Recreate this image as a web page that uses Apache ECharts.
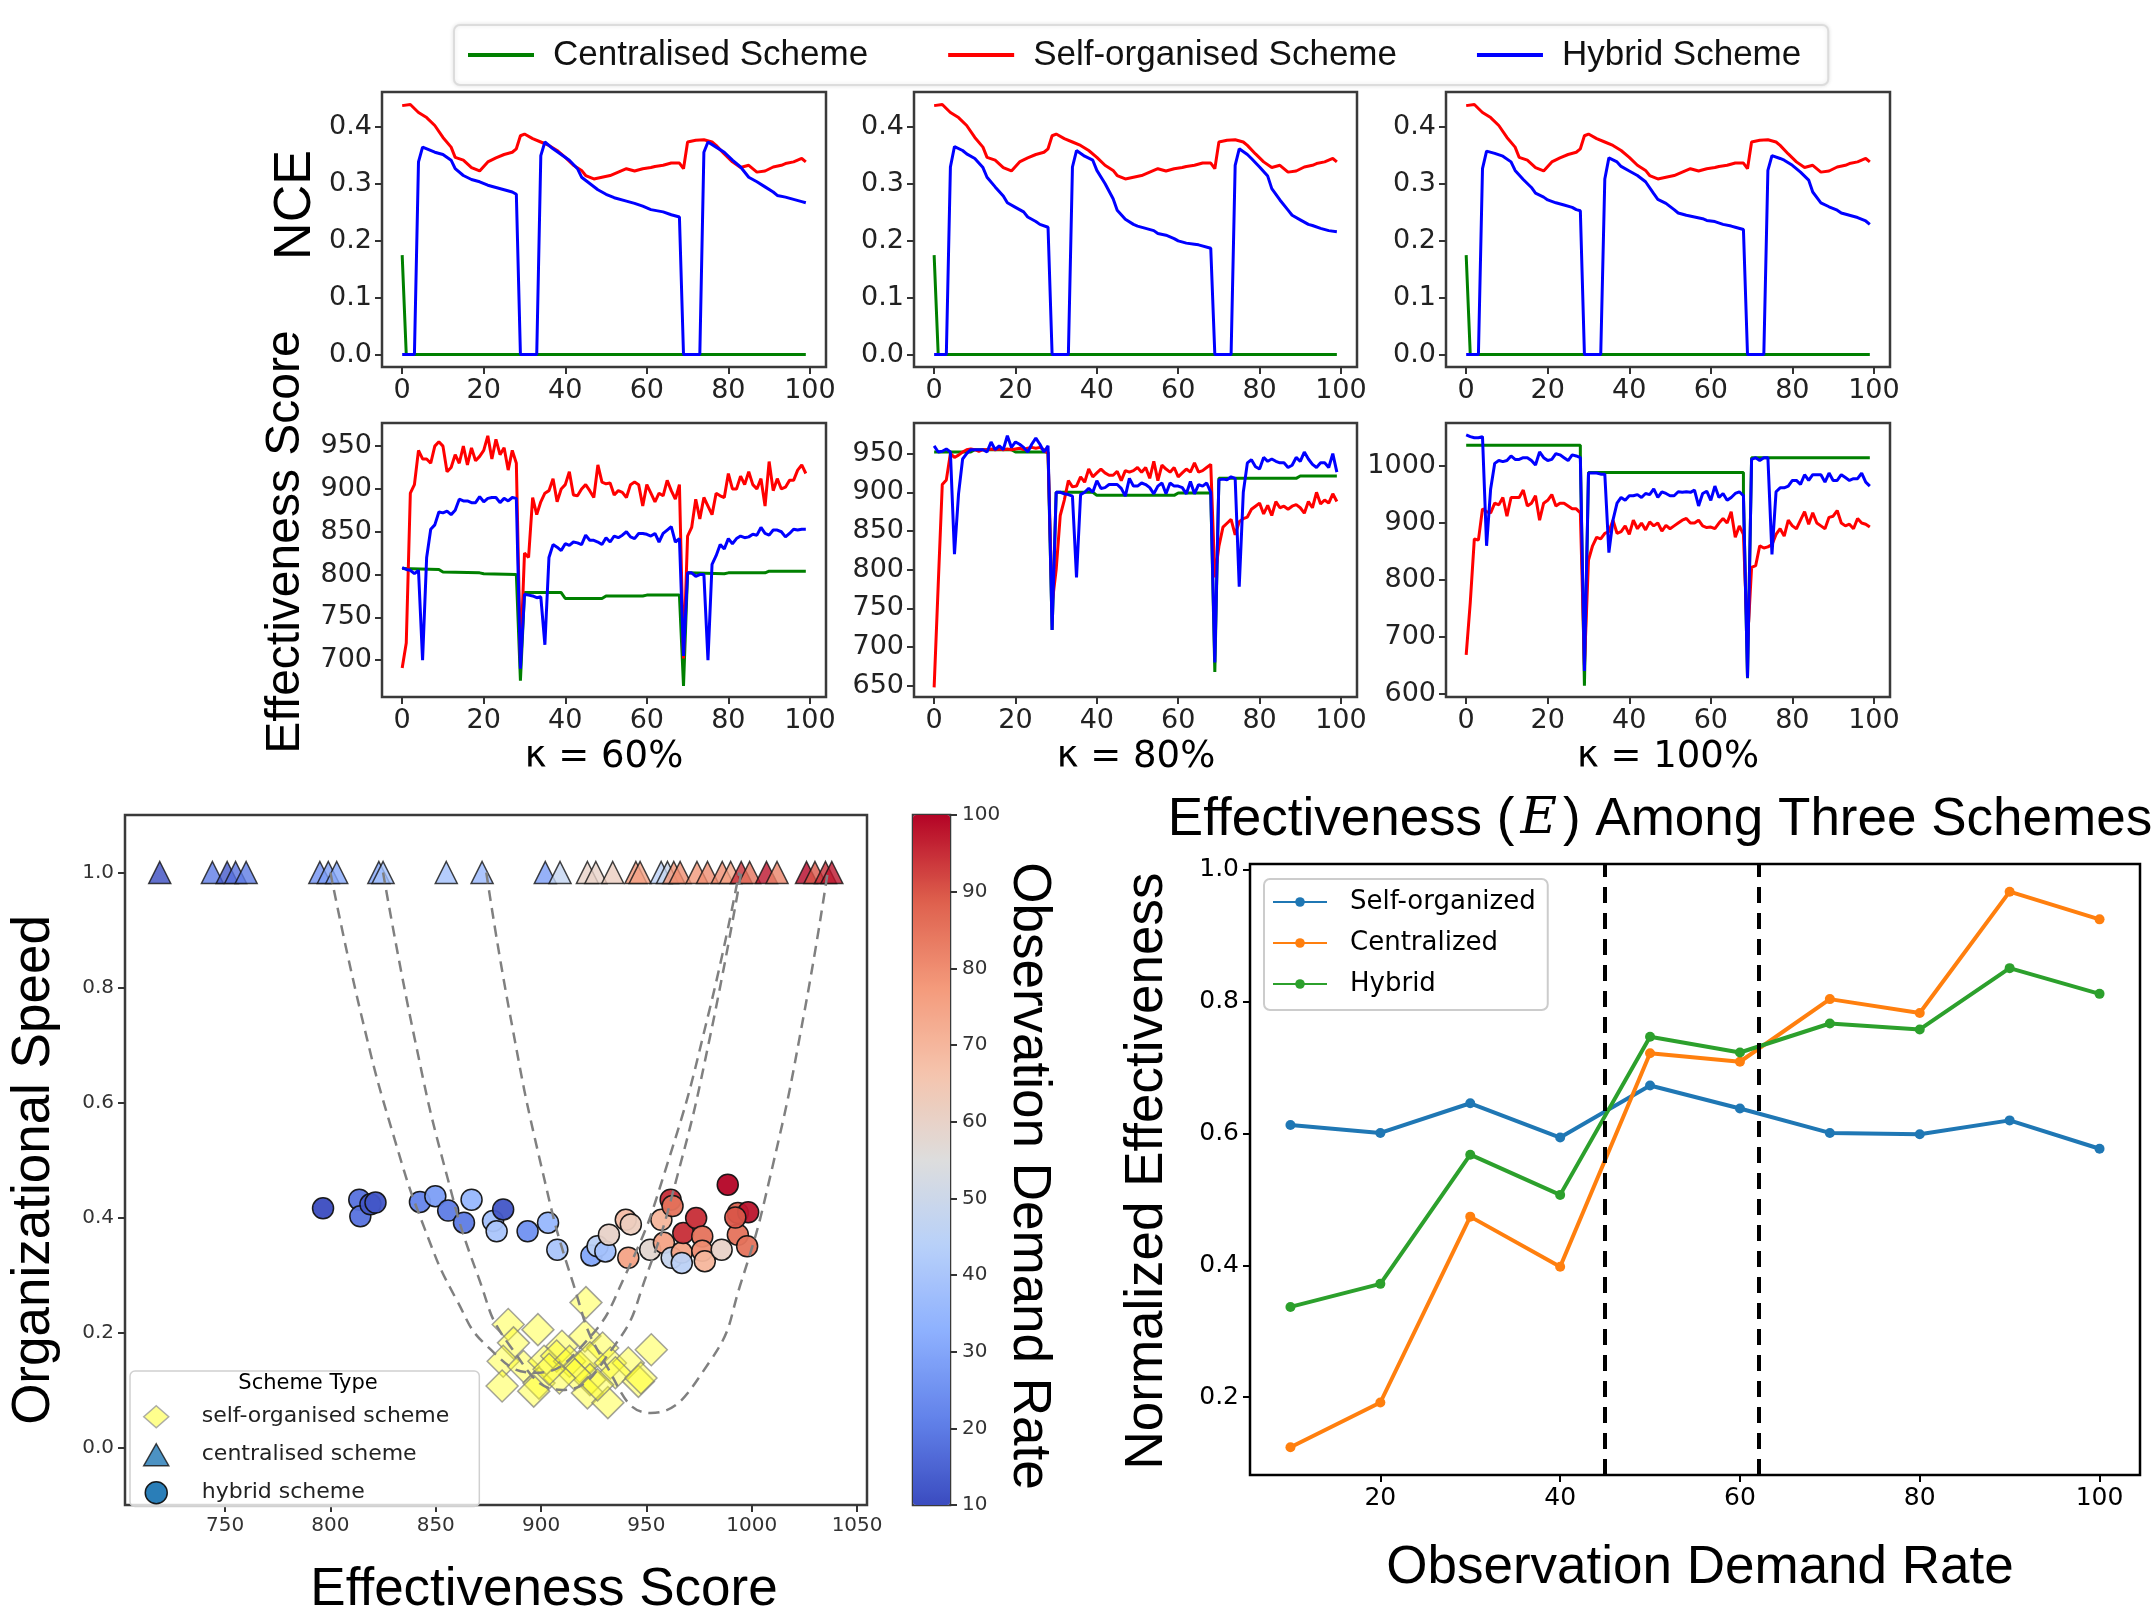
<!DOCTYPE html>
<html>
<head>
<meta charset="utf-8">
<script src="https://cdn.jsdelivr.net/npm/echarts@6/dist/echarts.min.js"></script>
<style>
  html, body { margin: 0; padding: 0; background: #fff; }
  #main { width: 2156px; height: 1611px; }
</style>
</head>
<body>
<div id="main"></div>
<script>
// ---- NCE (top row), x = time step ----
const nceCentral = [[0, 0.175], [1, 0], [99, 0]];
const nceSelf = [[0,0.438],[2,0.44],[4,0.426],[6,0.417],[8,0.403],[10,0.382],[12,0.365],[13,0.347],[15,0.342],[17,0.329],[19,0.323],[21,0.339],[23,0.346],[25,0.352],[27,0.356],[28,0.362],[29,0.385],[30,0.388],[32,0.38],[34,0.374],[36,0.368],[38,0.359],[40,0.347],[42,0.333],[44,0.324],[45,0.315],[47,0.309],[49,0.312],[51,0.315],[53,0.321],[55,0.327],[57,0.323],[59,0.327],[61,0.329],[62,0.331],[64,0.333],[66,0.337],[68,0.337],[69,0.327],[70,0.374],[72,0.377],[74,0.378],[76,0.374],[77,0.368],[79,0.353],[81,0.339],[83,0.329],[85,0.333],[87,0.321],[89,0.323],[91,0.33],[93,0.333],[94,0.336],[96,0.339],[98,0.345],[99,0.339]];
const nceHybrid60 = [[0,0],[3,0],[4,0.339],[5,0.365],[8,0.356],[10,0.352],[12,0.342],[13,0.327],[15,0.315],[17,0.308],[19,0.304],[21,0.298],[23,0.294],[25,0.29],[27,0.286],[28,0.282],[29,0],[33,0],[34,0.35],[35,0.374],[37,0.362],[39,0.352],[41,0.342],[43,0.327],[44,0.312],[46,0.301],[48,0.29],[50,0.282],[52,0.276],[55,0.27],[57,0.266],[59,0.261],[61,0.255],[64,0.251],[66,0.246],[68,0.242],[69,0],[73,0],[74,0.356],[75,0.374],[77,0.365],[79,0.356],[81,0.342],[83,0.33],[85,0.312],[87,0.304],[89,0.295],[91,0.286],[92,0.28],[94,0.277],[96,0.273],[98,0.269],[99,0.267]];
const nceHybrid80 = [[0,0],[3,0],[4,0.33],[5,0.366],[7,0.359],[8,0.353],[10,0.345],[12,0.329],[13,0.312],[15,0.295],[17,0.279],[18,0.267],[20,0.259],[22,0.251],[23,0.242],[25,0.234],[26,0.229],[28,0.224],[29,0],[33,0],[34,0.33],[35,0.359],[37,0.349],[39,0.342],[40,0.324],[42,0.301],[44,0.274],[45,0.254],[47,0.238],[49,0.229],[50,0.226],[52,0.222],[54,0.218],[55,0.213],[57,0.21],[59,0.204],[60,0.2],[62,0.196],[64,0.194],[65,0.193],[68,0.187],[69,0],[73,0],[74,0.333],[75,0.362],[77,0.352],[78,0.345],[80,0.33],[82,0.314],[83,0.292],[85,0.272],[87,0.254],[88,0.245],[90,0.237],[92,0.229],[93,0.227],[95,0.222],[97,0.218],[99,0.216]];
const nceHybrid100 = [[0,0],[3,0],[4,0.327],[5,0.358],[7,0.354],[9,0.349],[11,0.339],[12,0.324],[14,0.308],[16,0.294],[17,0.284],[19,0.277],[20,0.272],[22,0.267],[24,0.263],[26,0.259],[27,0.255],[28,0.253],[29,0],[33,0],[34,0.309],[35,0.346],[37,0.339],[38,0.331],[40,0.323],[42,0.315],[44,0.304],[46,0.283],[47,0.273],[49,0.266],[51,0.255],[52,0.249],[54,0.245],[56,0.242],[58,0.239],[59,0.236],[61,0.234],[63,0.229],[65,0.226],[66,0.224],[68,0.22],[69,0],[73,0],[74,0.324],[75,0.35],[77,0.345],[78,0.342],[80,0.333],[82,0.321],[84,0.307],[85,0.286],[87,0.267],[89,0.26],[91,0.254],[92,0.249],[94,0.245],[96,0.241],[98,0.235],[99,0.229]];

// ---- Effectiveness score (second row), one value per time step 0..99 ----
const effSelf60 = [691,720,895,905,945,935,935,930,950,955,950,920,925,940,930,950,928,948,933,938,945,962,935,958,940,948,922,945,930,700,825,820,890,870,885,895,898,912,885,900,905,920,893,892,900,905,898,890,928,908,906,907,893,898,896,890,905,908,905,880,905,895,885,895,892,910,898,888,905,702,845,855,888,865,890,880,870,895,892,890,918,900,900,915,905,920,905,900,912,880,932,898,912,900,902,910,910,922,928,918];
const effHybrid60 = [808,806,805,801,805,700,820,853,858,873,872,874,870,875,888,886,886,884,884,891,885,889,890,890,884,889,886,890,889,690,777,776,775,773,774,718,820,835,832,828,836,834,838,837,835,846,840,840,838,835,843,838,845,843,846,850,844,842,848,848,847,845,848,838,848,852,856,838,842,705,802,802,798,800,800,700,812,822,835,830,842,836,842,845,843,844,847,846,855,848,846,852,852,850,844,848,853,852,853,853];
const effCentral60 = [[0,807],[9,806],[10,803],[19,802],[20,801],[28,800],[29,676],[30,779],[39,779],[40,772],[49,772],[50,775],[59,775],[60,776],[68,776],[69,670],[70,802],[79,801],[80,802],[89,802],[90,804],[99,804]];

const effSelf80 = [648,780,910,916,950,945,948,952,955,956,955,953,955,955,956,955,956,955,956,955,956,957,955,957,958,957,958,955,950,756,800,870,890,915,907,908,920,913,930,920,925,930,925,922,922,927,915,928,926,928,932,926,932,918,940,915,935,930,926,932,920,925,930,926,938,926,928,932,936,790,830,855,860,865,845,862,866,868,878,882,886,872,883,870,888,880,882,878,882,884,880,873,888,880,900,885,890,886,898,888];
const effHybrid80 = [960,952,953,956,952,820,898,943,950,955,955,955,955,952,965,955,960,955,973,958,965,962,958,952,962,970,962,952,960,722,900,900,898,897,895,790,897,900,905,900,915,905,906,910,910,910,905,895,918,908,908,912,910,906,898,908,912,898,912,908,908,906,898,914,898,910,908,912,900,680,916,917,916,920,918,778,900,938,942,933,930,945,940,943,940,938,938,932,935,945,940,952,943,936,932,938,938,932,950,926];
const effCentral80 = [[0,952],[9,952],[10,955],[19,955],[20,952],[28,952],[29,722],[30,900],[39,900],[40,896],[59,896],[60,899],[68,899],[69,668],[70,918],[89,918],[90,921],[99,921]];

const effSelf100 = [668,760,872,870,925,920,918,935,932,945,912,945,945,945,958,930,935,948,905,935,940,950,930,935,935,930,925,925,918,650,835,860,875,872,882,885,905,882,885,895,880,905,890,900,888,902,895,900,886,896,890,895,900,905,908,900,900,905,895,892,893,890,900,908,900,920,875,895,880,690,822,825,860,856,858,862,880,890,877,905,895,890,905,920,898,918,900,895,890,910,912,922,900,895,898,890,908,900,898,893];
const effHybrid100 = [1055,1052,1050,1050,1052,860,960,1005,1010,1008,1010,1018,1012,1012,1015,1015,1010,1002,1025,1015,1010,1012,1022,1020,1015,1010,1020,1018,1015,640,988,988,988,986,986,848,905,935,945,940,948,948,950,945,952,950,960,945,955,952,948,948,955,954,955,954,958,930,952,956,940,965,945,952,940,945,952,955,948,628,1012,1015,1010,1015,1015,845,955,962,962,965,975,975,968,985,975,985,985,985,972,988,975,975,985,980,975,978,978,988,972,965];
const effCentral100 = [[0,1037],[28,1037],[28,1020],[29,614],[30,989],[68,989],[68,952],[69,627],[70,1015],[99,1015]];

// ---- Scatter: [effectiveness, organizational speed, observation demand rate] ----
const centralisedPts = [[719,1,10],[744,1,20],[751,1,13],[755,1,18],[760,1,20],[795,1,25],[799,1,28],[803,1,30],[823,1,30],[825,1,38],[855,1,38],[872,1,35],[902,1,28],[909,1,47],[922,1,60],[926,1,60],[934,1,62],[945,1,78],[947,1,75],[957,1,45],[960,1,48],[963,1,78],[966,1,80],[974,1,78],[979,1,80],[986,1,80],[990,1,75],[995,1,95],[999,1,85],[1007,1,98],[1012,1,82],[1026,1,100],[1030,1,90],[1035,1,95],[1038,1,98]];
const hybridPts = [[796.5,0.416,10],[813.7,0.431,18],[814.2,0.402,18],[819,0.423,12],[821.4,0.426,12],[842.5,0.427,22],[849.8,0.437,28],[855.9,0.412,20],[863.4,0.391,20],[867,0.431,35],[877.2,0.394,38],[878.9,0.376,40],[882,0.414,12],[893.6,0.376,25],[903.3,0.391,35],[907.7,0.344,40],[923.9,0.334,30],[926.8,0.35,45],[930.5,0.341,38],[932.2,0.37,60],[940.2,0.396,68],[942.6,0.388,62],[941.4,0.33,75],[951.8,0.344,58],[957.1,0.396,70],[958.3,0.356,75],[961.5,0.431,95],[962.4,0.42,85],[962,0.33,48],[966.8,0.339,75],[966.8,0.321,45],[967.5,0.373,95],[973.6,0.399,95],[976.5,0.367,85],[976.5,0.342,80],[977.7,0.324,70],[985.7,0.344,60],[988.6,0.457,100],[993.4,0.408,88],[993.4,0.37,85],[998.3,0.409,98],[997.8,0.35,85],[992.2,0.4,90]];
const selfPts = [[921.3,0.252],[884.4,0.214],[898.5,0.205],[952.3,0.17],[920.8,0.194],[886.9,0.182],[909.9,0.176],[929.2,0.173],[882,0.15],[891.7,0.141],[901.4,0.15],[907.4,0.159],[913.5,0.15],[918.3,0.141],[923.2,0.156],[932.9,0.147],[941.4,0.147],[935.3,0.13],[923.2,0.118],[916,0.127],[899,0.112],[881.5,0.107],[896.5,0.098],[908.7,0.121],[922,0.095],[931.7,0.078],[946.2,0.115],[947.4,0.121],[903.8,0.136],[926.8,0.109]];
const curveA = [[800,1.0],[815,0.747],[830,0.542],[845,0.378],[860,0.256],[875,0.174],[897,0.13],[920,0.179],[940,0.3],[960,0.494],[980,0.762],[994,1.0]];
const curveB = [[825,1.0],[840,0.711],[855,0.477],[870,0.299],[885,0.178],[910,0.1],[935,0.178],[950,0.299],[965,0.477],[980,0.711],[995,1.0]];
const curveC = [[874,1.0],[885,0.758],[900,0.491],[915,0.288],[930,0.149],[952,0.06],[980,0.149],[995,0.288],[1010,0.491],[1025,0.758],[1036,1.0]];

// ---- Normalized effectiveness vs observation demand rate ----
const odrRates = [10, 20, 30, 40, 50, 60, 70, 80, 90, 100];
const normSelf = [0.613, 0.601, 0.646, 0.594, 0.673, 0.638, 0.601, 0.599, 0.620, 0.577];
const normCentral = [0.124, 0.192, 0.474, 0.398, 0.722, 0.709, 0.804, 0.783, 0.967, 0.925];
const normHybrid = [0.337, 0.372, 0.568, 0.507, 0.747, 0.723, 0.767, 0.758, 0.851, 0.812];
const thresholds = [45, 62.1];

const stepTicks = [0, 20, 40, 60, 80, 100];
const nceTicks = [0, 0.1, 0.2, 0.3, 0.4];
const eff60Ticks = [700, 750, 800, 850, 900, 950];
const eff80Ticks = [650, 700, 750, 800, 850, 900, 950];
const eff100Ticks = [600, 700, 800, 900, 1000];
const scoreTicks = [750, 800, 850, 900, 950, 1000, 1050];
const speedTicks = [0, 0.2, 0.4, 0.6, 0.8, 1.0];
const odrTicks = [10, 20, 30, 40, 50, 60, 70, 80, 90, 100];
const rateTicks = [20, 40, 60, 80, 100];
const normTicks = [0.2, 0.4, 0.6, 0.8, 1.0];
const coolwarm = ['#3b4cc0', '#6282ea', '#8db0fe', '#b8d0f9', '#dddddd', '#f5c4ad', '#f49a7b', '#de604d', '#b40426'];

const SANS = 'Liberation Sans, Arial, sans-serif';
const DJV = 'DejaVu Sans, sans-serif';

var chart = echarts.init(document.getElementById('main'), null, { width: 2156, height: 1611 });

const grids = [
  { left: 382, top: 92, width: 444, height: 275 },
  { left: 914, top: 92, width: 443, height: 275 },
  { left: 1446, top: 92, width: 444, height: 275 },
  { left: 382, top: 423, width: 444, height: 274 },
  { left: 914, top: 423, width: 443, height: 274 },
  { left: 1446, top: 423, width: 444, height: 274 },
  { left: 125, top: 815, width: 742, height: 690 },
  { left: 913, top: 815, width: 37, height: 690 },
  { left: 1250, top: 864, width: 890, height: 611 }
].map(function (g, i) {
  return Object.assign({
    show: true, borderColor: i >= 8 ? '#000' : '#3a3a3a', borderWidth: 2.5,
    backgroundColor: 'transparent', outerBoundsMode: 'none'
  }, g);
});

const plain = function (v) { return String(v); };
const f1 = function (v) { return v.toFixed(1); };

function axis(gi, min, max, ticks, opts) {
  opts = opts || {};
  return {
    gridIndex: gi, type: 'value', min: min, max: max,
    position: opts.position,
    show: opts.show !== false,
    axisLine: { show: false, onZero: false },
    splitLine: { show: false },
    axisTick: { show: true, customValues: ticks, length: 7, lineStyle: { color: opts.tc || '#333', width: 2 } },
    axisLabel: {
      customValues: ticks, margin: opts.margin || 10, fontFamily: DJV,
      fontSize: opts.fs || 27, color: opts.lc || '#222',
      formatter: opts.fmt || plain
    }
  };
}

const xAxes = [], yAxes = [];
for (let i = 0; i < 6; i++) xAxes.push(axis(i, -4.95, 103.95, stepTicks));
yAxes.push(axis(0, -0.022, 0.462, nceTicks, { fmt: f1 }));
yAxes.push(axis(1, -0.022, 0.462, nceTicks, { fmt: f1 }));
yAxes.push(axis(2, -0.022, 0.462, nceTicks, { fmt: f1 }));
yAxes.push(axis(3, 657, 977, eff60Ticks));
yAxes.push(axis(4, 635.5, 989.5, eff80Ticks));
yAxes.push(axis(5, 594, 1076, eff100Ticks));
xAxes.push(axis(6, 702.5, 1054.7, scoreTicks, { fs: 20, lc: '#333', margin: 11 }));
yAxes.push(axis(6, -0.1, 1.1, speedTicks, { fs: 20, lc: '#333', fmt: f1, margin: 11 }));
xAxes.push({ gridIndex: 7, type: 'value', min: 0, max: 1, show: false });
yAxes.push(axis(7, 10, 100, odrTicks, { fs: 20, lc: '#333', position: 'right', margin: 12 }));
xAxes.push(axis(8, 5.5, 104.5, rateTicks, { fs: 25, lc: '#000', tc: '#000', margin: 11 }));
yAxes.push(axis(8, 0.082, 1.009, normTicks, { fs: 25, lc: '#000', tc: '#000', fmt: f1, margin: 11 }));

function ts(gi, name, data, color) {
  return {
    type: 'line', name: name, xAxisIndex: gi, yAxisIndex: gi, data: data,
    symbol: 'none', lineStyle: { color: color, width: 3 }, itemStyle: { color: color }
  };
}
const idx = function (arr) { return arr.map(function (v, i) { return [i, v]; }); };

const series = [];
const nceHybrid = [nceHybrid60, nceHybrid80, nceHybrid100];
for (let i = 0; i < 3; i++) {
  series.push(ts(i, 'Centralised Scheme', nceCentral, '#008000'));
  series.push(ts(i, 'Self-organised Scheme', nceSelf, '#ff0000'));
  series.push(ts(i, 'Hybrid Scheme', nceHybrid[i], '#0000ff'));
}
const effSets = [[effCentral60, effSelf60, effHybrid60], [effCentral80, effSelf80, effHybrid80], [effCentral100, effSelf100, effHybrid100]];
effSets.forEach(function (s, i) {
  series.push(ts(3 + i, 'Centralised Scheme', s[0], '#008000'));
  series.push(ts(3 + i, 'Self-organised Scheme', idx(s[1]), '#ff0000'));
  series.push(ts(3 + i, 'Hybrid Scheme', idx(s[2]), '#0000ff'));
});

// scatter panel
series.push({
  type: 'scatter', name: 'self-organised scheme', xAxisIndex: 6, yAxisIndex: 6,
  data: selfPts, symbol: 'diamond', symbolSize: 32, z: 3,
  itemStyle: { color: 'rgba(255,255,30,0.55)', borderColor: 'rgba(120,120,120,0.85)', borderWidth: 1.5 }
});
const triIdx = series.length;
series.push({
  type: 'scatter', name: 'centralised scheme', xAxisIndex: 6, yAxisIndex: 6,
  data: centralisedPts, symbol: 'triangle', symbolSize: 22, z: 3,
  itemStyle: { color: '#1f77b4', borderColor: '#111', borderWidth: 1.5 }
});
const circIdx = series.length;
series.push({
  type: 'scatter', name: 'hybrid scheme', xAxisIndex: 6, yAxisIndex: 6,
  data: hybridPts, symbol: 'circle', symbolSize: 21, z: 3,
  itemStyle: { color: '#1f77b4', borderColor: '#111', borderWidth: 1.5, opacity: 0.95 }
});
[curveA, curveB, curveC].forEach(function (c) {
  series.push({
    type: 'line', xAxisIndex: 6, yAxisIndex: 6, data: c, smooth: true, symbol: 'none', z: 4,
    lineStyle: { color: '#808080', width: 2.5, type: [11, 7] }
  });
});

// bottom-right line chart
function nl(name, vals, color) {
  return {
    type: 'line', name: name, xAxisIndex: 8, yAxisIndex: 8,
    data: odrRates.map(function (r, i) { return [r, vals[i]]; }),
    symbol: 'circle', symbolSize: 10, showSymbol: true,
    lineStyle: { color: color, width: 4 }, itemStyle: { color: color }
  };
}
const sSelf = nl('Self-organized', normSelf, '#1f77b4');
sSelf.markLine = {
  silent: true, symbol: 'none', label: { show: false },
  lineStyle: { color: '#000', width: 4, type: [16, 10] },
  data: thresholds.map(function (t) { return { xAxis: t }; })
};
series.push(sSelf);
series.push(nl('Centralized', normCentral, '#ff7f0e'));
series.push(nl('Hybrid', normHybrid, '#2ca02c'));

function label(text, x, y, size, rot, font) {
  return {
    type: 'text', x: x, y: y, rotation: rot || 0, z: 100,
    style: { text: text, font: size + 'px ' + (font || SANS), fill: '#000', align: 'center', verticalAlign: 'middle' }
  };
}

var option = {
  animation: false,
  backgroundColor: '#fff',
  grid: grids,
  xAxis: xAxes,
  yAxis: yAxes,
  series: series,
  visualMap: {
    type: 'continuous', min: 10, max: 100, dimension: 2,
    seriesIndex: [triIdx, circIdx], inRange: { color: coolwarm },
    left: 913, top: 815, itemWidth: 37, itemHeight: 690, padding: 0,
    calculable: false, hoverLink: false, text: null, showLabel: false
  },
  legend: [{
    data: ['Centralised Scheme', 'Self-organised Scheme', 'Hybrid Scheme'],
    icon: 'rect',
    left: 454, top: 25, padding: [12, 27, 12, 14],
    itemWidth: 66, itemHeight: 4, itemGap: 80,
    textStyle: { fontFamily: SANS, fontSize: 35, color: '#111', lineHeight: 36, padding: [0, 0, 0, 14] },
    backgroundColor: '#fff', borderColor: '#dcdcdc', borderWidth: 2, borderRadius: 6,
    shadowBlur: 4, shadowColor: 'rgba(0,0,0,0.1)'
  }, {
    data: ['Self-organized', 'Centralized', 'Hybrid'], orient: 'vertical',
    left: 1264, top: 879, padding: [8, 12, 11, 8],
    itemWidth: 54, itemHeight: 12, itemGap: 11,
    textStyle: { fontFamily: DJV, fontSize: 26, color: '#000', lineHeight: 30, padding: [0, 0, 0, 18] },
    backgroundColor: 'rgba(255,255,255,0.8)', borderColor: '#cccccc', borderWidth: 2, borderRadius: 6
  }, {
    data: [
      { name: 'self-organised scheme', icon: 'diamond', itemStyle: { color: '#ffff70', borderColor: '#999', borderWidth: 1.5 } },
      { name: 'centralised scheme', icon: 'triangle', itemStyle: { color: '#1f77b4', borderColor: '#111', borderWidth: 1.5 } },
      { name: 'hybrid scheme', icon: 'circle', itemStyle: { color: '#1f77b4', borderColor: '#111', borderWidth: 1.5 } }
    ],
    orient: 'vertical', left: 130, top: 1371, padding: [34, 30, 2, 13],
    itemWidth: 25, itemHeight: 22, itemGap: 14.5,
    textStyle: { fontFamily: DJV, fontSize: 22, color: '#222', lineHeight: 22, padding: [0, 0, 0, 28] },
    backgroundColor: 'rgba(255,255,255,0.8)', borderColor: '#d0d0d0', borderWidth: 1.5, borderRadius: 5
  }],
  graphic: [
    label('NCE', 296, 205, 52, Math.PI / 2),
    label('Effectiveness Score', 286, 542, 48, Math.PI / 2),
    label('κ = 60%', 604, 757, 37, 0, DJV),
    label('κ = 80%', 1136, 757, 37, 0, DJV),
    label('κ = 100%', 1668, 757, 37, 0, DJV),
    label('Organizational Speed', 34, 1170, 53, Math.PI / 2),
    label('Effectiveness Score', 544, 1590, 53),
    label('Observation Demand Rate', 1029, 1176, 53, -Math.PI / 2),
    label('Scheme Type', 308, 1384, 21, 0, DJV),
    label('Normalized Effectiveness', 1147, 1171, 53, Math.PI / 2),
    label('Observation Demand Rate', 1700, 1568, 53),
    {
      type: 'text', x: 1660, y: 820, z: 100,
      style: {
        text: '{n|Effectiveness (}{e|E}{n|) Among Three Schemes}',
        align: 'center', verticalAlign: 'middle', fill: '#000',
        rich: {
          n: { fontFamily: SANS, fontSize: 53, fill: '#000' },
          e: { fontFamily: 'DejaVu Serif, serif', fontStyle: 'italic', fontSize: 50, fill: '#000', padding: [0, 6, 0, 6] }
        }
      }
    }
  ]
};
chart.setOption(option);
</script>
</body>
</html>
